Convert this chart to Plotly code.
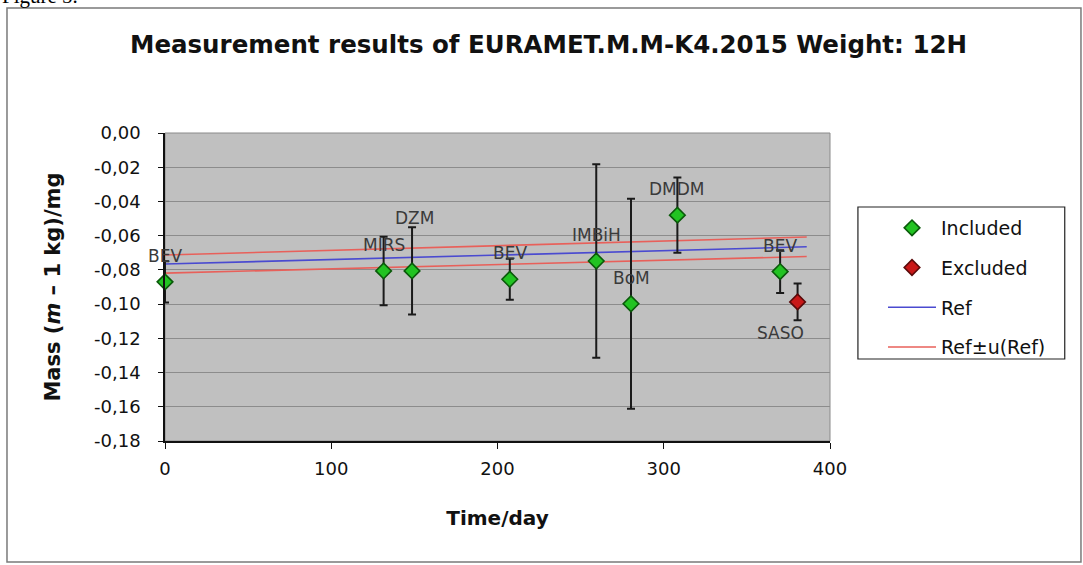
import plotly.graph_objects as go

# ---------------- data ----------------
days_incl = [0, 131.5, 148.6, 207.4, 259.4, 280.3, 308.2, 370.0]
mass_incl = [-0.0870, -0.0806, -0.0806, -0.0855, -0.0748, -0.0998, -0.0480, -0.0810]
unc_incl = [0.0120, 0.0200, 0.0255, 0.0120, 0.0566, 0.0614, 0.0220, 0.0125]
labels_incl = ["BEV", "MIRS", "DZM", "BEV", "IMBiH", "BoM", "DMDM", "BEV"]

days_excl = [380.5]
mass_excl = [-0.0987]
unc_excl = [0.0108]
labels_excl = ["SASO"]

ref_days = [0, 386]
ref_vals = [-0.0766, -0.0665]
ref_u = [0.0053, 0.0057]

y_tickvals = [0, -0.02, -0.04, -0.06, -0.08, -0.10, -0.12, -0.14, -0.16, -0.18]
y_ticktext = ["0,00", "-0,02", "-0,04", "-0,06", "-0,08", "-0,10", "-0,12", "-0,14", "-0,16", "-0,18"]
x_tickvals = [0, 100, 200, 300, 400]

# ---------------- styles ----------------
FONT = "DejaVu Sans"
# label offsets (px) for data labels: (xshift, yshift)
label_default_shift = (0, 26)
label_shift_override = {2: (2, 53)}          # index in included series
label_shift_excl = (-17, -31)

fig = go.Figure()

upper = [v + u for v, u in zip(ref_vals, ref_u)]
lower = [v - u for v, u in zip(ref_vals, ref_u)]

fig.add_trace(go.Scatter(x=ref_days, y=upper, mode="lines", name="Ref±u(Ref)",
                         line=dict(color="#e8605a", width=1.6), legendgroup="c",
                         legendrank=4, showlegend=True, hoverinfo="skip"))
fig.add_trace(go.Scatter(x=ref_days, y=lower, mode="lines", name="Ref±u(Ref)",
                         line=dict(color="#e8605a", width=1.6), legendgroup="c",
                         showlegend=False, hoverinfo="skip"))
fig.add_trace(go.Scatter(x=ref_days, y=ref_vals, mode="lines", name="Ref",
                         line=dict(color="#4a4ad0", width=1.6), legendgroup="b",
                         legendrank=3))

fig.add_trace(go.Scatter(
    x=days_incl, y=mass_incl, mode="markers", name="Included", legendgroup="a0",
    legendrank=1, cliponaxis=False,
    marker=dict(symbol="diamond", size=12, color="#22c322",
                line=dict(color="#0a5a0a", width=1.6)),
    error_y=dict(type="data", array=unc_incl, visible=True, color="#1a1a1a",
                 thickness=2, width=4)))
fig.add_trace(go.Scatter(
    x=days_excl, y=mass_excl, mode="markers", name="Excluded", legendgroup="a1",
    legendrank=2, cliponaxis=False,
    marker=dict(symbol="diamond", size=12, color="#c81818",
                line=dict(color="#5a0a0a", width=1.6)),
    error_y=dict(type="data", array=unc_excl, visible=True, color="#1a1a1a",
                 thickness=2, width=4)))

label_font = dict(family=FONT, size=17, color="#3a3a3a")
for i, (xd, yd, lab) in enumerate(zip(days_incl, mass_incl, labels_incl)):
    xs, ys = label_shift_override.get(i, label_default_shift)
    fig.add_annotation(x=xd, y=yd, text=lab, showarrow=False, xshift=xs, yshift=ys,
                       font=label_font, xanchor="center", yanchor="middle")
for xd, yd, lab in zip(days_excl, mass_excl, labels_excl):
    xs, ys = label_shift_excl
    fig.add_annotation(x=xd, y=yd, text=lab, showarrow=False, xshift=xs, yshift=ys,
                       font=label_font, xanchor="center", yanchor="middle")

# "Figure 5." caption, cropped at the top of the picture
fig.add_annotation(text="Figure 5.", xref="paper", yref="paper",
                   x=-0.248, y=1.445, xanchor="left", yanchor="middle", showarrow=False,
                   font=dict(family="Liberation Serif", size=21, color="#000"))

# outer chart frame
fig.add_shape(type="rect", xref="paper", yref="paper", x0=-0.2376, x1=1.3774,
              y0=-0.393, y1=1.406, line=dict(color="#7a7a7a", width=1.5), layer="below")
# plot area border
fig.add_shape(type="rect", xref="paper", yref="paper", x0=0, x1=1, y0=0, y1=1,
              line=dict(color="#8a8a8a", width=1), layer="below")
# legend box
fig.add_shape(type="rect", xref="paper", yref="paper", x0=1.042, x1=1.353,
              y0=(441 - 359) / 308, y1=(441 - 207) / 308, line=dict(color="#222", width=1.2),
              fillcolor="white", layer="below")

fig.update_layout(
    width=1083, height=565,
    margin=dict(l=165, r=253, t=133, b=124),
    paper_bgcolor="white", plot_bgcolor="#c0c0c0",
    title=dict(text="<b>Measurement results of EURAMET.M.M-K4.2015 Weight: 12H</b>",
               x=548.5 / 1083, xanchor="center", xref="container",
               y=1 - 44 / 565, yanchor="middle", yref="container",
               font=dict(family=FONT, size=24.5, color="#111")),
    showlegend=True,
    legend=dict(x=(883 - 165) / 665, y=(441 - 209) / 308, xanchor="left", yanchor="top",
                bgcolor="rgba(0,0,0,0)", borderwidth=0, itemwidth=48,
                traceorder="grouped", tracegroupgap=12,
                font=dict(family=FONT, size=19, color="#111")),
    xaxis=dict(range=[0, 400], tickvals=x_tickvals, showgrid=False, zeroline=False,
               showline=True, linecolor="#111", linewidth=1.5,
               ticks="outside", ticklen=6, tickcolor="#111", tickwidth=1.2,
               ticklabelstandoff=5,
               tickfont=dict(family=FONT, size=18, color="#111"),
               title=dict(text="<b>Time/day</b>", standoff=33,
                          font=dict(family=FONT, size=20, color="#111"))),
    yaxis=dict(range=[-0.18, 0], tickvals=y_tickvals, ticktext=y_ticktext,
               showgrid=True, gridcolor="#8c8c8c", gridwidth=1, zeroline=False,
               showline=True, linecolor="#111", linewidth=1.5,
               ticks="outside", ticklen=5, tickcolor="#111", tickwidth=1.2,
               ticklabelstandoff=14,
               tickfont=dict(family=FONT, size=18, color="#111"),
               title=dict(text="<b>Mass (<i>m</i> – 1 kg)/mg</b>", standoff=28,
                          font=dict(family=FONT, size=21, color="#111"))),
)

fig.write_html("out.html")
